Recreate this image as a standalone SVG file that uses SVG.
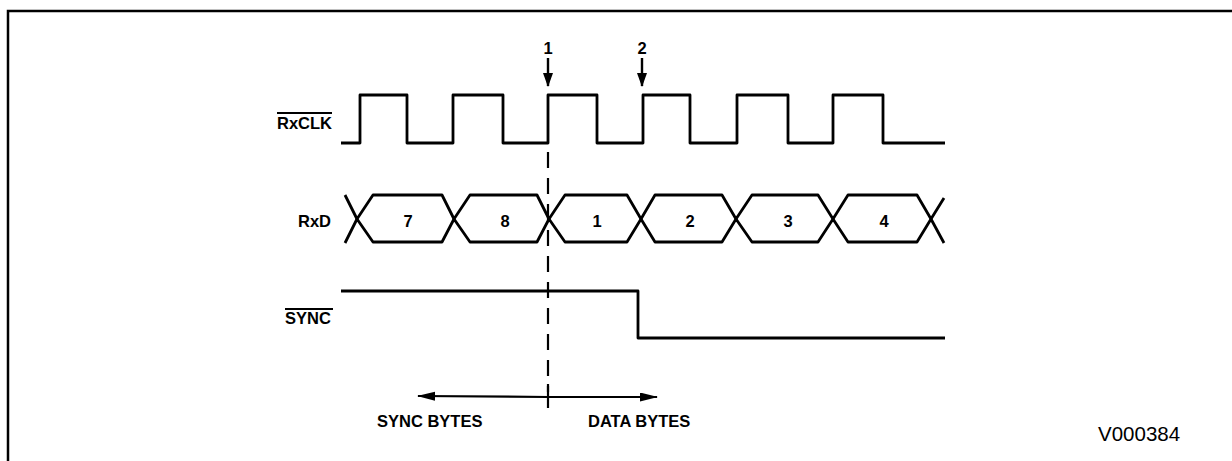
<svg xmlns="http://www.w3.org/2000/svg" width="1232" height="461" viewBox="0 0 1232 461">
<style>
.sig{fill:none;stroke:#000;stroke-width:2.8;stroke-linejoin:round}
.lbl{font-family:"Liberation Sans",Arial,sans-serif;font-weight:bold;font-size:16.5px;fill:#000}
.num{font-family:"Liberation Sans",Arial,sans-serif;font-weight:bold;font-size:16.5px;fill:#000;text-anchor:middle}
.ov{stroke:#000;stroke-width:1.8}
</style>
<defs>
<marker id="ah" markerWidth="14" markerHeight="10" refX="13" refY="5" orient="auto" markerUnits="userSpaceOnUse" viewBox="0 0 14 10">
<path d="M0,0 L14,5 L0,10 Z" fill="#000"/>
</marker>
<marker id="ahd" markerWidth="18" markerHeight="10" refX="17" refY="4.5" orient="auto" markerUnits="userSpaceOnUse">
<path d="M0,0 L18,4.5 L0,9 Z" fill="#000"/>
</marker>
</defs>
<g id="border">
<path d="M8,1232 V11 H1232" fill="none" stroke="#000" stroke-width="2.5"/>
</g>
<g id="rxclk">
<text class="lbl" x="277" y="129">RxCLK</text>
<line class="ov" x1="277" y1="113" x2="332" y2="113"/>
<path class="sig" d="M341,143 H360 V95 H407 V143 H453 V95 H503 V143 H548 V95 H597 V143 H643 V95 H690 V143 H737 V95 H788 V143 H833 V95 H883 V143 H945"/>
</g>
<g id="rxd">
<text class="lbl" x="298" y="227">RxD</text>
<path class="sig" d="M345,195 L357,219 L373,195 H442 L454,219 L470,195 H537 L549,219 L565,195 H627 L641,219 L655,195 H722 L736,219 L752,195 H818 L833,219 L848,195 H917 L931,219 L944,198"/>
<path class="sig" d="M345,243 L357,219 L373,242 H442 L454,219 L470,242 H537 L549,219 L565,242 H627 L641,219 L655,242 H722 L736,219 L752,242 H818 L833,219 L848,242 H917 L931,219 L944,243"/>
<text class="num" x="408" y="227">7</text>
<text class="num" x="505" y="227">8</text>
<text class="num" x="597" y="227">1</text>
<text class="num" x="690" y="227">2</text>
<text class="num" x="788" y="227">3</text>
<text class="num" x="884" y="227">4</text>
</g>
<g id="sync">
<text class="lbl" x="285" y="324">SYNC</text>
<line class="ov" x1="285" y1="309" x2="333" y2="309"/>
<path class="sig" d="M341,291 H638 V338 H945"/>
</g>
<g id="markers">
<text class="num" x="548" y="54">1</text>
<text class="num" x="642" y="54">2</text>
</g>
<g id="connectors">
<line x1="548" y1="58" x2="548" y2="86" stroke="#000" stroke-width="2.4" marker-end="url(#ah)"/>
<line x1="642" y1="58" x2="642" y2="86" stroke="#000" stroke-width="2.4" marker-end="url(#ah)"/>
<line x1="548" y1="152" x2="548" y2="392" stroke="#000" stroke-width="2.2" stroke-dasharray="16,10"/>
<line x1="548" y1="384" x2="548" y2="408" stroke="#000" stroke-width="2.2"/>
<line x1="548" y1="397" x2="418" y2="396" stroke="#000" stroke-width="2.2" marker-end="url(#ahd)"/>
<line x1="548" y1="397" x2="657" y2="397" stroke="#000" stroke-width="2.2" marker-end="url(#ahd)"/>
</g>
<g id="labels">
<text class="lbl" x="377" y="427" font-size="17.5">SYNC BYTES</text>
<text class="lbl" x="588" y="427" font-size="17.5">DATA BYTES</text>
<text x="1098" y="441" font-family="Liberation Sans,Arial,sans-serif" font-size="20.5" fill="#000">V000384</text>
</g>
</svg>
